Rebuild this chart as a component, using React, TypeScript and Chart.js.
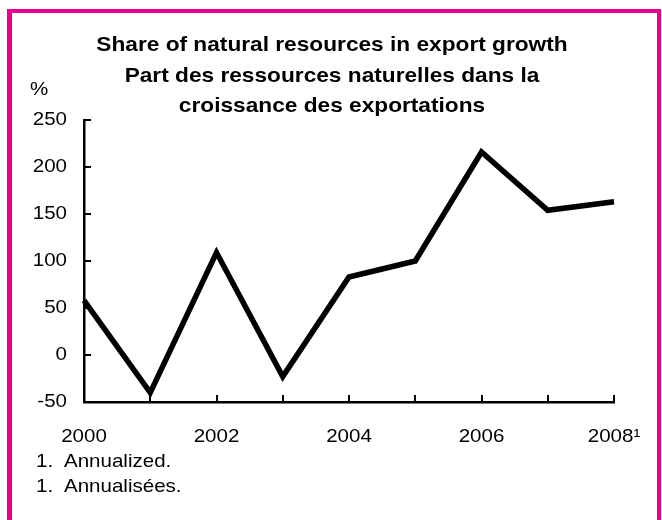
import React, { useEffect, useRef } from "react";
import { Chart, registerables } from "chart.js";

Chart.register(...registerables);

const titleLines = [
  "Share of natural resources in export growth",
  "Part des ressources naturelles dans la",
  "croissance des exportations",
];
const unitLabel = "%";
const years = ["2000", "2001", "2002", "2003", "2004", "2005", "2006", "2007", "2008"];
const xTickLabels = ["2000", "", "2002", "", "2004", "", "2006", "", "2008\u00B9"];
const shareValues = [58, -40, 109, -23, 83, 100, 216, 154, 163];
const yMin = -50;
const yMax = 250;
const yStep = 50;
const footnoteNumbers = ["1.", "1."];
const footnoteTexts = ["Annualized.", "Annualisées."];

const FONT = '"Liberation Sans", Arial, Helvetica, sans-serif';
const MAGENTA = "#EC008C";

function stretchedText(
  ctx: CanvasRenderingContext2D,
  text: string,
  x: number,
  y: number,
  font: string,
  align: CanvasTextAlign,
  sx: number
) {
  ctx.save();
  ctx.font = font;
  ctx.textAlign = align;
  ctx.textBaseline = "middle";
  ctx.fillStyle = "#000";
  ctx.translate(x, y);
  ctx.scale(sx, 1);
  ctx.fillText(text, 0, 0);
  ctx.restore();
}

const decorPlugin = {
  id: "decor",
  beforeDraw(chart: any) {
    const ctx = chart.ctx as CanvasRenderingContext2D;
    ctx.save();
    ctx.fillStyle = "#fff";
    ctx.fillRect(0, 0, chart.width, chart.height);
    ctx.restore();
  },
  afterDraw(chart: any) {
    const ctx = chart.ctx as CanvasRenderingContext2D;
    const xs = chart.scales.x;
    const ys = chart.scales.y;
    const area = chart.chartArea;

    // inward tick marks
    ctx.save();
    ctx.strokeStyle = "#000";
    ctx.lineWidth = 2;
    ys.ticks.forEach((t: any) => {
      const py = Math.round(ys.getPixelForValue(t.value));
      ctx.beginPath();
      ctx.moveTo(area.left, py);
      ctx.lineTo(area.left + 7, py);
      ctx.stroke();
    });
    years.forEach((_, i) => {
      const px = Math.round(xs.getPixelForValue(i));
      ctx.beginPath();
      ctx.moveTo(px, area.bottom);
      ctx.lineTo(px, area.bottom - 7);
      ctx.stroke();
    });
    ctx.restore();

    const SX = 1.08;
    const labelFont = `19px ${FONT}`;
    // y tick labels
    ys.ticks.forEach((t: any) => {
      const py = ys.getPixelForValue(t.value);
      stretchedText(ctx, String(t.value), area.left - 17, py, labelFont, "right", SX);
    });
    // x tick labels
    xTickLabels.forEach((lab, i) => {
      if (!lab) return;
      const px = xs.getPixelForValue(i);
      stretchedText(ctx, lab, px, area.bottom + 35, labelFont, "center", SX);
    });

    // unit
    stretchedText(ctx, unitLabel, 39, 90, labelFont, "center", SX);

    // title
    const titleFont = `bold 21px ${FONT}`;
    const titleY = [45, 76, 106];
    titleLines.forEach((line, i) => {
      stretchedText(ctx, line, 332, titleY[i], titleFont, "center", SX);
    });

    // footnotes
    const fnY = [462, 487];
    footnoteTexts.forEach((txt, i) => {
      stretchedText(ctx, footnoteNumbers[i], 36, fnY[i], labelFont, "left", SX);
      stretchedText(ctx, txt, 64, fnY[i], labelFont, "left", SX);
    });

    // magenta frame
    ctx.save();
    ctx.fillStyle = MAGENTA;
    ctx.fillRect(7, 9, 5, chart.height);
    ctx.fillRect(7, 9, 654, 4);
    ctx.fillRect(657, 9, 4, chart.height);
    ctx.restore();
  },
};

export default function App() {
  const ref = useRef<HTMLCanvasElement | null>(null);
  useEffect(() => {
    if (!ref.current) return;
    const chart = new Chart(ref.current, {
      type: "line",
      data: {
        labels: years,
        datasets: [
          {
            data: shareValues,
            borderColor: "#000",
            borderWidth: 5.5,
            pointRadius: 0,
            pointHoverRadius: 0,
            tension: 0,
            fill: false,
          },
        ],
      },
      options: {
        animation: false,
        responsive: false,
        devicePixelRatio: 1,
        events: [],
        layout: { padding: { top: 120, right: 48, left: 0, bottom: 0 } },
        plugins: {
          legend: { display: false },
          title: { display: false },
          tooltip: { enabled: false },
        },
        scales: {
          x: {
            type: "category",
            offset: false,
            grid: { display: false, drawTicks: false },
            ticks: { display: false, autoSkip: false },
            border: { display: true, color: "#000", width: 2.5 },
            afterFit: (s: any) => {
              s.height = 118;
            },
          },
          y: {
            min: yMin,
            max: yMax,
            grid: { display: false, drawTicks: false },
            ticks: { display: false, stepSize: yStep },
            border: { display: true, color: "#000", width: 2.5 },
            afterFit: (s: any) => {
              s.width = 84;
            },
          },
        },
      },
      plugins: [decorPlugin],
    });
    return () => chart.destroy();
  }, []);
  return (
    <canvas
      ref={ref}
      width={662}
      height={520}
      style={{ position: "fixed", left: 0, top: 0, width: 662, height: 520, display: "block" }}
    />
  );
}
